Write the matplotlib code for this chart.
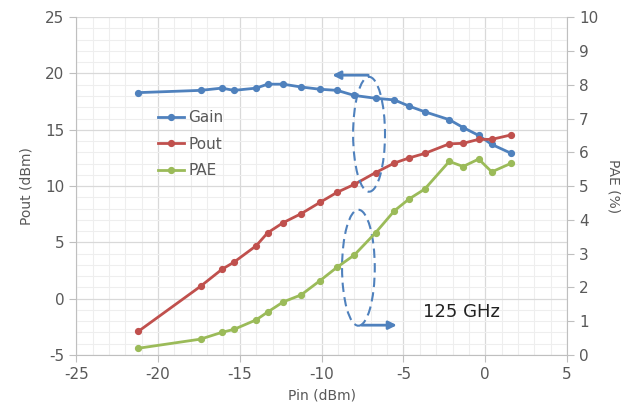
import numpy as np
import matplotlib.pyplot as plt
from matplotlib.patches import Ellipse
from matplotlib.ticker import MultipleLocator

plt.rcParams['axes.unicode_minus'] = False

pin = [-21.2, -17.4, -16.1, -15.35, -14.0, -13.3, -12.35, -11.25, -10.1, -9.05,
       -8.0, -6.7, -5.55, -4.65, -3.7, -2.2, -1.35, -0.4, 0.4, 1.6]
gain = [18.3, 18.5, 18.7, 18.5, 18.7, 19.05, 19.05, 18.8, 18.6, 18.5,
        18.05, 17.8, 17.65, 17.1, 16.6, 15.9, 15.2, 14.5, 13.7, 12.9]
pout = [-2.9, 1.1, 2.6, 3.25, 4.7, 5.85, 6.75, 7.55, 8.55, 9.45,
        10.15, 11.2, 12.05, 12.5, 12.9, 13.75, 13.8, 14.15, 14.15, 14.55]
pae = [0.2, 0.47, 0.67, 0.76, 1.04, 1.27, 1.57, 1.78, 2.2, 2.6,
       2.96, 3.62, 4.27, 4.62, 4.91, 5.73, 5.58, 5.8, 5.42, 5.68]

blue = '#4F81BD'
red = '#C0504D'
green = '#9BBB59'
txt = '#595959'
axc = '#BFBFBF'

fig = plt.figure(figsize=(6.4, 4.09), dpi=100)
ax = fig.add_axes([0.119, 0.132, 0.767, 0.826])
ax2 = ax.twinx()

ax.set_xlim(-25, 5)
ax.set_ylim(-5, 25)
ax2.set_ylim(0, 10)
ax.xaxis.set_major_locator(MultipleLocator(5))
ax.xaxis.set_minor_locator(MultipleLocator(1))
ax.yaxis.set_major_locator(MultipleLocator(5))
ax.yaxis.set_minor_locator(MultipleLocator(1))
ax2.yaxis.set_major_locator(MultipleLocator(1))

ax.grid(which='minor', color='#EEEEEE', lw=0.8)
ax.grid(which='major', color='#D9D9D9', lw=0.9)
ax.set_axisbelow(True)

for a in (ax, ax2):
    for s in a.spines.values():
        s.set_visible(False)
ax.spines['left'].set_visible(True)
ax.spines['bottom'].set_visible(True)
ax2.spines['right'].set_visible(True)
ax.spines['left'].set_color(axc)
ax.spines['bottom'].set_color(axc)
ax2.spines['right'].set_color(axc)

ax.tick_params(which='major', length=5, color=axc, labelcolor=txt, labelsize=11)
ax.tick_params(which='minor', length=0)
ax2.tick_params(length=5, color=axc, labelcolor=txt, labelsize=11)

ms = 4.2
l1, = ax.plot(pin, gain, '-o', color=blue, lw=2, ms=ms, label='Gain')
l2, = ax.plot(pin, pout, '-o', color=red, lw=2, ms=ms, label='Pout')
l3, = ax2.plot(pin, pae, '-o', color=green, lw=2, ms=ms, label='PAE')

ax.set_xlabel('Pin (dBm)', color=txt, fontsize=10, labelpad=5)
ax.set_ylabel('Pout (dBm)', color=txt, fontsize=10, labelpad=8)
ax2.set_ylabel('PAE (%)', color=txt, fontsize=10, rotation=270, labelpad=16)

leg = ax2.legend(handles=[l1, l2, l3], loc='upper left', bbox_to_anchor=(0.138, 0.765),
                 frameon=False, fontsize=11, handlelength=1.7, handletextpad=0.3,
                 labelspacing=0.75, labelcolor=txt)

# annotations
ax2.add_patch(Ellipse((-7.1, 14.6), 1.95, 10.2, transform=ax.transData, fill=False,
                      ec=blue, lw=1.5, ls=(0, (4.5, 2.5))))
ax2.add_patch(Ellipse((-7.75, 2.75), 2.0, 10.3, transform=ax.transData, fill=False,
                      ec=blue, lw=1.5, ls=(0, (4.5, 2.5))))
ax2.annotate('', xy=(-9.35, 19.85), xytext=(-7.15, 19.85),
             xycoords=ax.transData, textcoords=ax.transData,
             arrowprops=dict(arrowstyle='-|>', color=blue, lw=2, mutation_scale=12,
                             shrinkA=0, shrinkB=0))
ax2.annotate('', xy=(-5.4, -2.35), xytext=(-7.55, -2.35),
             xycoords=ax.transData, textcoords=ax.transData,
             arrowprops=dict(arrowstyle='-|>', color=blue, lw=2, mutation_scale=12,
                             shrinkA=0, shrinkB=0))
ax.text(-1.45, -1.2, '125 GHz', fontsize=13, color='#222222', ha='center', va='center')

fig.savefig('out.png', dpi=100)
